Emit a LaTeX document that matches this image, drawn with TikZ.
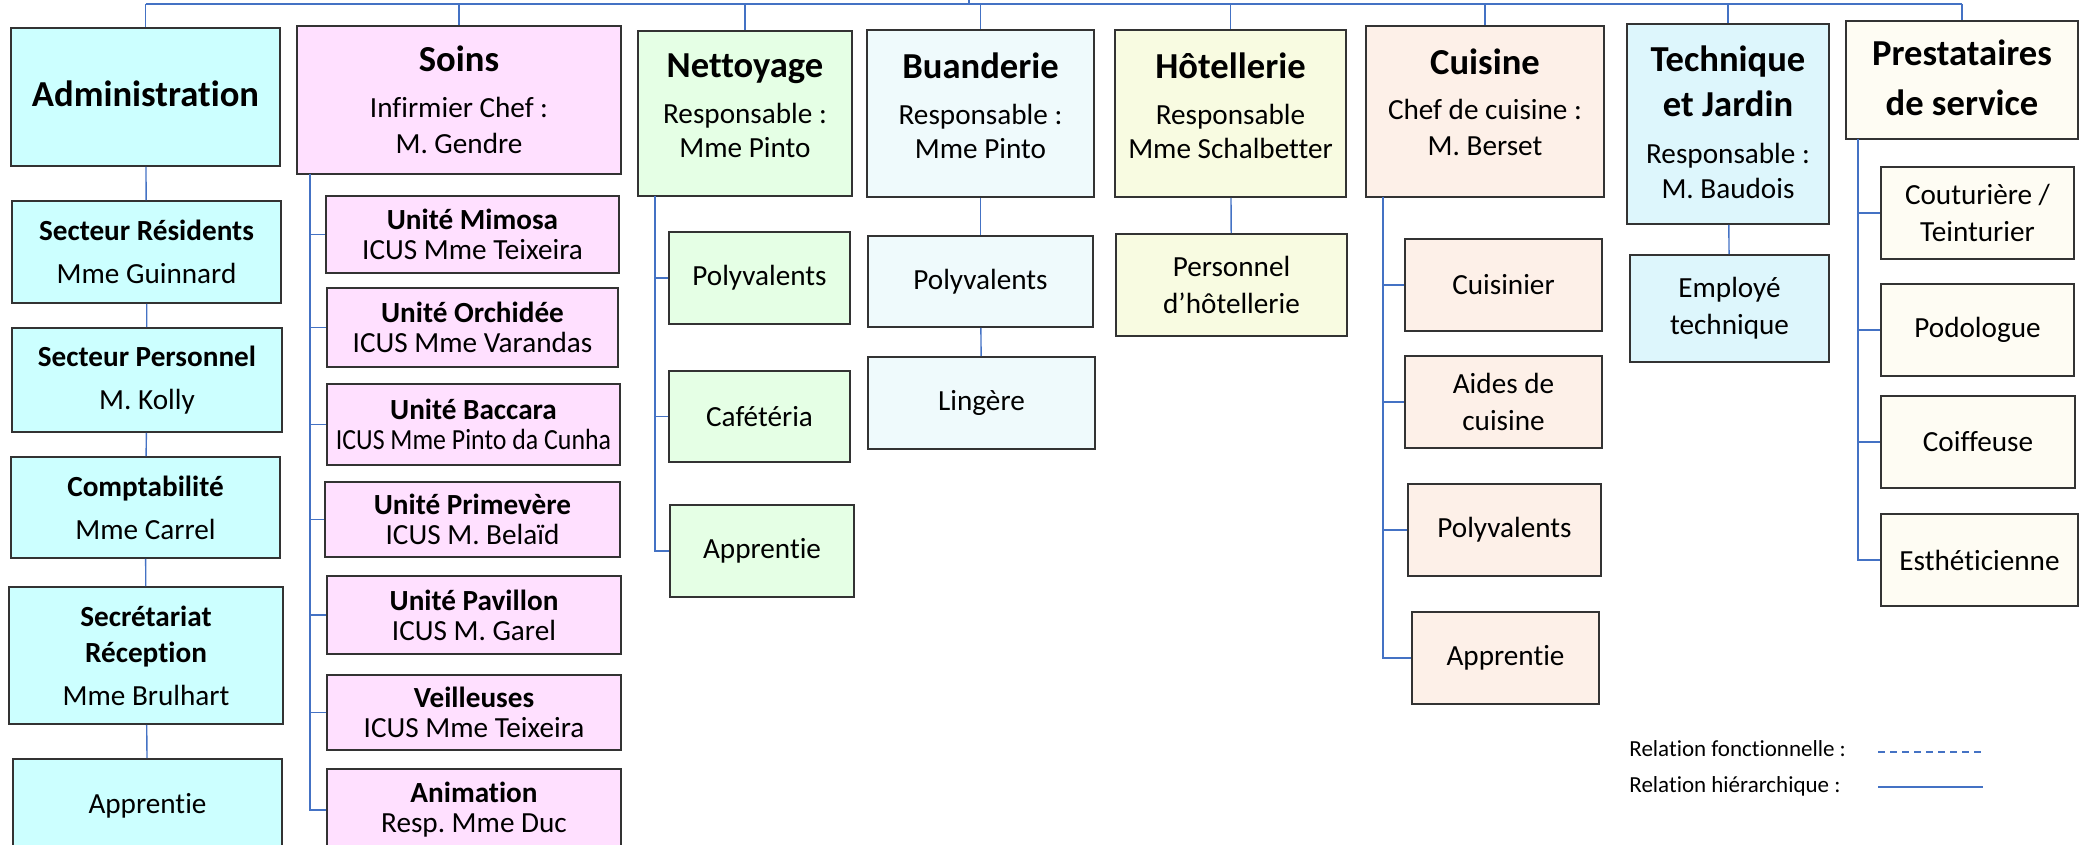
\documentclass[tikz,border=0pt]{standalone}
\usepackage{fontspec}
\usepackage{graphicx}
\setmainfont{Carlito}[Ligatures=NoCommon]
\newfontfamily\legendfont{Carlito}[Ligatures=NoCommon]
\frenchspacing

\definecolor{relblue}{RGB}{68,114,196}
\definecolor{admincol}{HTML}{CCFFFF}
\definecolor{soinscol}{HTML}{FFE0FF}
\definecolor{nettcol}{HTML}{E5FFE5}
\definecolor{buandcol}{HTML}{EFFAFC}
\definecolor{hotelcol}{HTML}{F8FBE1}
\definecolor{cuiscol}{HTML}{FDF0E8}
\definecolor{techcol}{HTML}{DDF6FC}
\definecolor{prestcol}{HTML}{FEFCF3}

\newcommand{\headtxt}[1]{{\fontsize{18.3}{18}\selectfont\bfseries #1}}

\begin{document}
\begin{tikzpicture}[
                            x=0.5pt, y=-0.5pt,
                            orgbox/.style={rectangle, draw=black!80, line width=0.8pt, align=center, inner sep=0pt, font=\fontsize{14.6}{18}\selectfont},
                            adminbox/.style={orgbox, fill=admincol},
                            soinsbox/.style={orgbox, fill=soinscol},
                            nettbox/.style={orgbox, fill=nettcol},
                            buandbox/.style={orgbox, fill=buandcol},
                            hotelbox/.style={orgbox, fill=hotelcol},
                            cuisbox/.style={orgbox, fill=cuiscol},
                            techbox/.style={orgbox, fill=techcol},
                            prestbox/.style={orgbox, fill=prestcol},
                            rel/.style={draw=relblue, line width=0.7pt},
                            legend/.style={anchor=base west, inner sep=0pt, font=\legendfont\fontsize{11.5}{13}\selectfont}
                        ]
                        \useasboundingbox (0,0) rectangle (2087,845);

                        % Blocks
                        \node [adminbox, minimum width=134.5pt, minimum height=69pt, text depth=3pt] (admin) at (145.5,97) {\headtxt{Administration}};
                        \node [adminbox, minimum width=134.5pt, minimum height=51pt] (resid) at (146.5,252) {\textbf{Secteur Résidents}\\[3.5pt] Mme Guinnard};
                        \node [adminbox, minimum width=135pt, minimum height=52pt] (perso) at (147,380) {\textbf{Secteur Personnel}\\[3.5pt] M. Kolly};
                        \node [adminbox, minimum width=134.5pt, minimum height=50.5pt] (compta) at (145.5,507.5) {\textbf{Comptabilité}\\[3.5pt] Mme Carrel};
                        \node [adminbox, minimum width=137pt, minimum height=68.5pt] (secret) at (146,655.5) {\textbf{Secrétariat}\\ \textbf{Réception}\\[3.5pt] Mme Brulhart};
                        \node [adminbox, minimum width=134.5pt, minimum height=47pt] (apprA) at (147.5,806) {Apprentie};

                        \node [soinsbox, minimum width=162pt, minimum height=74pt] (soins) at (459,100) {\headtxt{Soins}\\[5pt] Infirmier Chef :\\ M. Gendre};
                        \node [soinsbox, minimum width=146.5pt, minimum height=38.5pt] (mimosa) at (472.5,234.5) {\textbf{Unité Mimosa}\\[-3pt] ICUS Mme Teixeira};
                        \node [soinsbox, minimum width=145.5pt, minimum height=39.5pt] (orch) at (472.5,327.5) {\textbf{Unité Orchidée}\\[-3pt] ICUS Mme Varandas};
                        \node [soinsbox, minimum width=146.5pt, minimum height=40.5pt] (bacc) at (473.5,424.5) {\textbf{Unité Baccara}\\[-3pt] \scalebox{0.885}[1]{ICUS Mme Pinto da Cunha}};
                        \node [soinsbox, minimum width=147.5pt, minimum height=37.5pt] (prim) at (472.5,519.5) {\textbf{Unité Primevère}\\[-3pt] ICUS M. Belaïd};
                        \node [soinsbox, minimum width=147pt, minimum height=39pt] (pav) at (474,615) {\textbf{Unité Pavillon}\\[-3pt] ICUS M. Garel};
                        \node [soinsbox, minimum width=147pt, minimum height=37.5pt] (veil) at (474,712.5) {\textbf{Veilleuses}\\[-3pt] ICUS Mme Teixeira};
                        \node [soinsbox, minimum width=147pt, minimum height=41pt] (anim) at (474,810) {\textbf{Animation}\\[-3pt] Resp. Mme Duc};

                        \node [nettbox, minimum width=107pt, minimum height=82.5pt, text depth=8pt] (netto) at (745,113.5) {\headtxt{Nettoyage}\\[5pt] Responsable :\\[-1pt] Mme Pinto};
                        \node [nettbox, minimum width=90.5pt, minimum height=46pt] (polyN) at (759.5,278) {Polyvalents};
                        \node [nettbox, minimum width=90.5pt, minimum height=45.5pt] (cafet) at (759.5,416.5) {Cafétéria};
                        \node [nettbox, minimum width=92pt, minimum height=46pt] (apprN) at (762,551) {Apprentie};

                        \node [buandbox, minimum width=113.5pt, minimum height=83.5pt, text depth=8pt] (buand) at (980.5,113.5) {\headtxt{Buanderie}\\[5pt] Responsable :\\[-1pt] Mme Pinto};
                        \node [buandbox, minimum width=112.5pt, minimum height=45.5pt] (polyB) at (980.5,281.5) {Polyvalents};
                        \node [buandbox, minimum width=113.5pt, minimum height=46pt] (linge) at (981.5,403) {Lingère};

                        \node [hotelbox, minimum width=115.5pt, minimum height=83.5pt, text depth=8pt] (hotel) at (1230.5,113.5) {\headtxt{Hôtellerie}\\[5pt] Responsable\\[-1pt] Mme Schalbetter};
                        \node [hotelbox, minimum width=115.5pt, minimum height=51pt] (persH) at (1231.5,285) {Personnel\\[0.5pt] d’hôtellerie};

                        \node [cuisbox, minimum width=119pt, minimum height=85.5pt, text depth=9.5pt] (cuis) at (1485,111.5) {\headtxt{Cuisine}\\[4.5pt] Chef de cuisine :\\ M. Berset};
                        \node [cuisbox, minimum width=98.5pt, minimum height=46pt] (cuisinier) at (1503.5,285) {Cuisinier};
                        \node [cuisbox, minimum width=98.5pt, minimum height=46pt] (aides) at (1503.5,402) {Aides de\\[0.5pt] cuisine};
                        \node [cuisbox, minimum width=96.5pt, minimum height=46pt] (polyC) at (1504.5,530) {Polyvalents};
                        \node [cuisbox, minimum width=93.5pt, minimum height=46pt] (apprC) at (1505.5,658) {Apprentie};

                        \node [techbox, minimum width=101pt, minimum height=100pt, text depth=2pt] (tech) at (1728,124) {\headtxt{Technique}\\[4.5pt] \headtxt{et Jardin}\\[5.5pt] Responsable :\\[-0.5pt] M. Baudois};
                        \node [techbox, minimum width=99.5pt, minimum height=53.5pt] (empl) at (1729.5,308.5) {Employé\\[0.5pt] technique};

                        \node [prestbox, minimum width=116pt, minimum height=59pt, text depth=2pt] (prest) at (1962,80) {\headtxt{Prestataires}\\[7pt] \headtxt{de service}};
                        \node [prestbox, minimum width=96.5pt, minimum height=46pt] (cout) at (1977.5,213) {Couturière /\\[0.5pt] Teinturier};
                        \node [prestbox, minimum width=96.5pt, minimum height=46pt] (podo) at (1977.5,330) {Podologue};
                        \node [prestbox, minimum width=97pt, minimum height=46pt] (coif) at (1978,442) {Coiffeuse};
                        \node [prestbox, minimum width=98.5pt, minimum height=46pt] (esth) at (1979.5,560) {Esthéticienne};

                        % Legend
                        \node [legend] (fonct) at (1629,756) {Relation fonctionnelle :};
                        \node [legend] (hier) at (1629,792) {Relation hiérarchique :};
                        \coordinate (fonctA) at (1878,752);
                        \coordinate (fonctB) at (1983,752);
                        \coordinate (hierA) at (1878,787);
                        \coordinate (hierB) at (1983,787);

                        % Bus points
                        \coordinate (topbus) at (0,4);
                        \coordinate (parent) at (969,0);
                        \coordinate (soinsbus) at (310,174);
                        \coordinate (nettbus) at (655,196);
                        \coordinate (cuisbus) at (1383,197);
                        \coordinate (prestbus) at (1858,139);

                        % Connections
                        \draw [rel] (admin.north |- topbus) -- (prest.north |- topbus);
                        \draw [rel] (parent) -- (parent |- topbus);
                        \foreach \d in {admin,soins,netto,buand,hotel,cuis,tech,prest}
                            \draw [rel] (\d.north |- topbus) -- (\d.north);
                        \draw [rel] (admin) -- (resid);
                        \draw [rel] (resid) -- (perso);
                        \draw [rel] (perso) -- (compta);
                        \draw [rel] (compta) -- (secret);
                        \draw [rel] (secret) -- (apprA);
                        \foreach \u in {mimosa,orch,bacc,prim,pav,veil,anim}
                            \draw [rel] (soinsbus) |- (\u.west);
                        \foreach \u in {polyN,cafet,apprN}
                            \draw [rel] (nettbus) |- (\u.west);
                        \draw [rel] (buand) -- (polyB);
                        \draw [rel] (polyB) -- (linge);
                        \draw [rel] (hotel) -- (persH);
                        \foreach \u in {cuisinier,aides,polyC,apprC}
                            \draw [rel] (cuisbus) |- (\u.west);
                        \draw [rel] (tech) -- (empl);
                        \foreach \u in {cout,podo,coif,esth}
                            \draw [rel] (prestbus) |- (\u.west);
                        \draw [rel, dash pattern=on 3.5pt off 2.5pt] (fonctA) -- (fonctB);
                        \draw [rel] (hierA) -- (hierB);
                    \end{tikzpicture}
\end{document}
